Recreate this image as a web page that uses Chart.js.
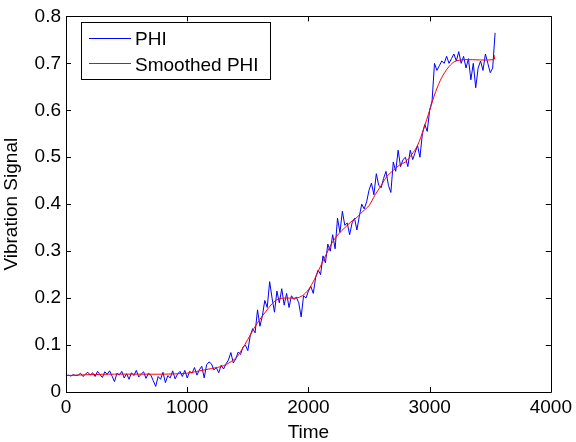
<!DOCTYPE html>
<html><head><meta charset="utf-8">
<script src="https://cdn.jsdelivr.net/npm/chart.js@4/dist/chart.umd.min.js"></script>
<style>html,body{margin:0;padding:0;background:#fff}#wrap{width:576px;height:442px}</style>
</head><body><div id="wrap"><canvas id="c" width="576" height="442"></canvas></div>
<script>
const phiStart = 0, phiStep = 20;
const phiValues = [
0.035,0.036,0.034,0.037,0.035,0.036,0.040,0.033,0.038,0.042,
0.036,0.041,0.033,0.044,0.037,0.031,0.043,0.038,0.045,0.034,
0.022,0.040,0.036,0.044,0.030,0.039,0.027,0.041,0.035,0.046,
0.032,0.038,0.043,0.029,0.040,0.036,0.024,0.012,0.033,0.027,
0.042,0.020,0.035,0.030,0.045,0.028,0.038,0.044,0.033,0.046,
0.030,0.044,0.040,0.052,0.036,0.047,0.055,0.030,0.058,0.064,
0.060,0.047,0.052,0.041,0.057,0.049,0.060,0.068,0.084,0.062,
0.070,0.085,0.080,0.096,0.100,0.088,0.120,0.135,0.126,0.175,
0.140,0.162,0.195,0.180,0.235,0.200,0.170,0.215,0.190,0.220,
0.185,0.210,0.180,0.205,0.197,0.202,0.190,0.160,0.205,0.200,
0.215,0.225,0.210,0.245,0.260,0.250,0.290,0.275,0.315,0.300,
0.335,0.305,0.370,0.340,0.385,0.355,0.360,0.335,0.360,0.370,
0.345,0.375,0.400,0.390,0.405,0.430,0.445,0.420,0.465,0.440,
0.435,0.455,0.470,0.440,0.425,0.490,0.470,0.515,0.480,0.495,
0.500,0.480,0.515,0.495,0.510,0.525,0.500,0.550,0.570,0.555,
0.600,0.620,0.700,0.685,0.695,0.705,0.700,0.715,0.700,0.710,
0.720,0.705,0.725,0.700,0.715,0.690,0.710,0.665,0.700,0.648,
0.690,0.705,0.685,0.720,0.700,0.680,0.690,0.765
];
const smoothTime = [0,200,400,600,800,1000,1100,1200,1300,1400,1450,1500,1550,1600,1650,1700,1750,1800,1850,1900,1950,2000,2050,2100,2150,2200,2250,2300,2350,2400,2450,2500,2550,2600,2650,2700,2750,2800,2850,2900,2950,3000,3050,3100,3150,3200,3250,3300,3530,3535];
const smoothValues = [0.035,0.037,0.038,0.038,0.038,0.040,0.045,0.050,0.056,0.072,0.090,0.112,0.135,0.155,0.172,0.188,0.198,0.200,0.200,0.200,0.205,0.218,0.240,0.268,0.295,0.320,0.337,0.350,0.362,0.372,0.385,0.397,0.420,0.440,0.460,0.472,0.483,0.490,0.505,0.525,0.560,0.600,0.640,0.670,0.690,0.703,0.707,0.708,0.708,0.717];
const xTicks = [0,1000,2000,3000,4000];
const yTicks = [0,0.1,0.2,0.3,0.4,0.5,0.6,0.7,0.8];
const seriesNames = ['PHI','Smoothed PHI'];
const xTitle = 'Time', yTitle = 'Vibration Signal';

const phiData = phiValues.map((v,i)=>({x: phiStart + i*phiStep, y: v}));
const smoothData = smoothValues.map((v,i)=>({x: smoothTime[i], y: v}));
const FONT = '"Liberation Sans", Arial, sans-serif';
const FS = 19;

const framePlugin = {
  id: 'frame',
  afterDraw(chart){
    const {ctx, chartArea:a, scales:{x,y}} = chart;
    ctx.save();
    ctx.strokeStyle = '#000'; ctx.lineWidth = 1;
    ctx.beginPath();
    ctx.rect(Math.round(a.left)+0.5, Math.round(a.top)+0.5, Math.round(a.right-a.left), Math.round(a.bottom-a.top));
    ctx.stroke();
    const L = 5;
    ctx.beginPath();
    xTicks.forEach(t=>{const px=Math.round(x.getPixelForValue(t))+0.5;
      ctx.moveTo(px,a.bottom); ctx.lineTo(px,a.bottom-L);
      ctx.moveTo(px,a.top); ctx.lineTo(px,a.top+L);});
    yTicks.forEach(t=>{const py=Math.round(y.getPixelForValue(t))+0.5;
      ctx.moveTo(a.left,py); ctx.lineTo(a.left+L,py);
      ctx.moveTo(a.right,py); ctx.lineTo(a.right-L,py);});
    ctx.stroke();
    // legend box
    const bx=81.5, by=22.5, bw=189, bh=57;
    ctx.fillStyle='#fff';
    ctx.fillRect(bx,by,bw,bh);
    ctx.strokeRect(bx,by,bw,bh);
    const cols=['#0000ff','#ff0000'];
    const rows=[38,63];
    const base=[45,71];
    ctx.font = FS+'px '+FONT;
    ctx.textBaseline='alphabetic'; ctx.textAlign='left';
    seriesNames.forEach((n,i)=>{
      ctx.strokeStyle=cols[i]; ctx.beginPath();
      ctx.moveTo(89,rows[i]+0.5); ctx.lineTo(131,rows[i]+0.5); ctx.stroke();
      ctx.fillStyle='#000'; ctx.fillText(n,135,base[i]);
    });
    ctx.restore();
  }
};

new Chart(document.getElementById('c'), {
  type: 'line',
  data: { datasets: [
    {label: seriesNames[0], data: phiData, borderColor:'#0000ff', borderWidth:1, pointRadius:0, tension:0, order:1},
    {label: seriesNames[1], data: smoothData, borderColor:'#ff0000', borderWidth:1, pointRadius:0, tension:0.3, order:0}
  ]},
  options: {
    responsive:false, animation:false, devicePixelRatio:1,
    layout:{padding:{left:0,right:22,top:10,bottom:0}},
    plugins:{legend:{display:false}, tooltip:{enabled:false}},
    scales:{
      x:{type:'linear', min:0, max:4000,
        afterBuildTicks:s=>{s.ticks=xTicks.map(v=>({value:v}));},
        afterFit:s=>{s.height=50;},
        grid:{display:false, drawTicks:false}, border:{display:false},
        ticks:{color:'#000', font:{family:FONT,size:FS}, padding:4, maxRotation:0, callback:v=>String(v)},
        title:{display:true, text:xTitle, color:'#000', font:{family:FONT,size:FS,lineHeight:1}, padding:{top:0,bottom:0}}},
      y:{type:'linear', min:0, max:0.8,
        afterBuildTicks:s=>{s.ticks=yTicks.map(v=>({value:v}));},
        afterFit:s=>{s.width=66;},
        grid:{display:false, drawTicks:false}, border:{display:false},
        ticks:{color:'#000', font:{family:FONT,size:FS}, padding:5, callback:v=>v===0?'0':String(Math.round(v*10)/10)},
        title:{display:true, text:yTitle, color:'#000', font:{family:FONT,size:FS}, padding:{top:0,bottom:0}}}
    }
  },
  plugins:[framePlugin]
});
</script></body></html>
